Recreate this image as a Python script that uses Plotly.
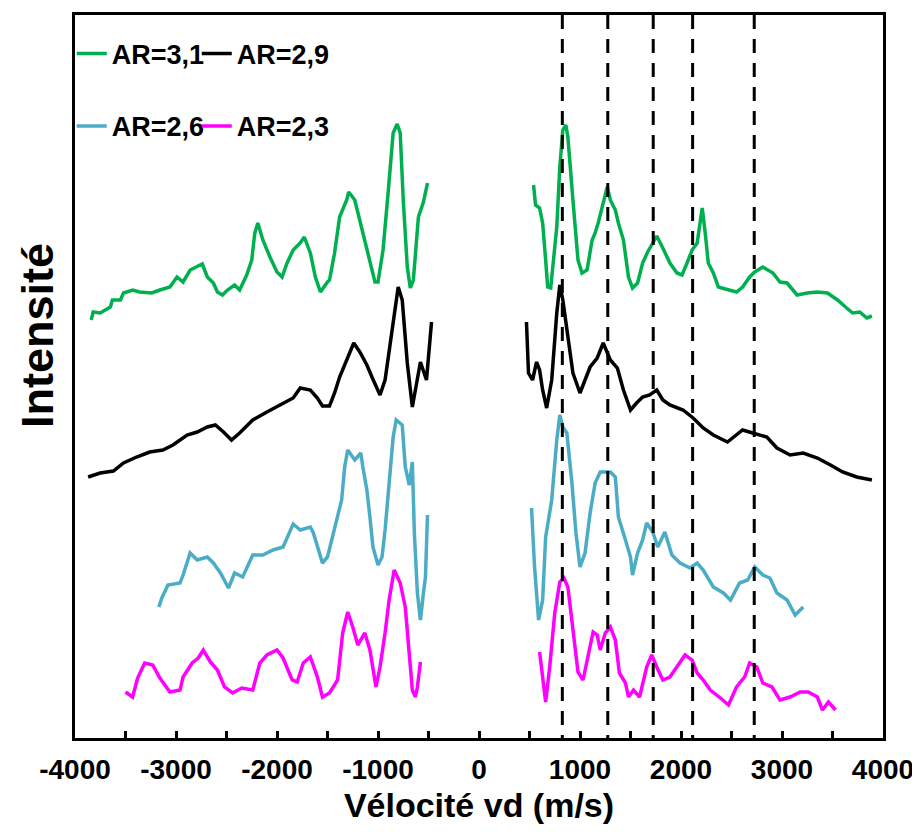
import plotly.graph_objects as go

# ---------------- data (velocity in m/s, intensity in arbitrary units) ----------------
green_neg_v = [-3840,-3820,-3750,-3650,-3630,-3550,-3520,-3430,-3360,-3240,
               -3160,-3060,-2990,-2930,-2860,-2790,-2740,-2690,-2630,-2590,
               -2540,-2490,-2420,-2370,-2300,-2250,-2220,-2190,-2140,-2070,
               -2000,-1950,-1900,-1840,-1770,-1730,-1670,-1620,-1570,-1500,
               -1480,-1430,-1380,-1310,-1290,-1230,-1180,-1130,-1080,-1030,
               -1000,-950,-900,-850,-810,-780,-750,-710,-680,-650,
               -600,-560,-550,-510]
green_neg_i = [417,425,424,430,437,437,444,447,445,444,
               447,450,460,455,467,470,473,460,454,445,
               442,447,452,447,462,477,504,514,497,480,
               465,460,474,487,494,500,484,460,445,455,
               457,484,520,537,545,537,517,497,474,455,
               455,487,544,604,613,604,537,470,449,457,
               520,534,535,554]
green_pos_v = [540,560,600,630,660,680,710,730,770,800,
               830,860,880,930,980,1020,1070,1120,1150,1180,
               1220,1270,1300,1350,1380,1430,1480,1520,1570,1620,
               1670,1760,1820,1890,1960,2010,2060,2110,2160,2210,
               2240,2270,2320,2370,2440,2520,2550,2610,2680,2730,
               2810,2910,2980,3050,3150,3250,3350,3450,3550,3640,
               3700,3770,3840,3890]
green_pos_i = [552,532,529,514,477,450,449,467,510,570,
               607,612,600,537,477,464,467,497,504,514,
               530,550,537,527,514,497,460,449,454,474,
               485,501,489,474,464,462,474,487,494,529,
               504,474,464,450,448,446,445,450,460,465,
               470,464,455,454,442,444,445,444,437,429,
               424,425,419,421]

black_neg_v = [-3870,-3750,-3620,-3520,-3390,-3260,-3130,-3030,-2890,-2790,
               -2690,-2610,-2530,-2450,-2370,-2240,-2100,-1970,-1840,-1770,
               -1670,-1600,-1550,-1480,-1430,-1380,-1310,-1240,-1180,-1110,
               -1060,-980,-930,-860,-800,-760,-710,-660,-610,-580,
               -520,-470]
black_neg_i = [260,264,266,274,280,285,287,292,302,305,
               310,312,305,297,304,317,325,332,339,349,
               347,339,331,331,344,360,377,394,385,372,
               360,342,357,407,450,437,374,330,357,375,
               357,415]
black_pos_v = [470,490,530,570,600,630,670,720,770,800,
               830,880,930,1000,1050,1100,1170,1230,1300,1370,
               1430,1500,1560,1620,1690,1760,1820,1890,2020,2120,
               2220,2320,2460,2510,2610,2710,2850,2950,3080,3210,
               3350,3480,3600,3740,3890]
black_pos_i = [415,364,357,375,367,347,329,357,424,452,
               437,400,364,344,357,370,379,394,377,369,
               347,327,334,340,342,347,337,332,327,319,
               309,302,295,299,307,304,300,289,282,284,
               279,272,265,260,257]

cyan_neg_v = [-3170,-3140,-3080,-2960,-2930,-2860,-2790,-2690,-2630,-2560,
              -2480,-2420,-2340,-2240,-2140,-2040,-1940,-1840,-1770,-1670,
              -1640,-1590,-1550,-1500,-1450,-1400,-1360,-1330,-1300,-1230,
              -1170,-1150,-1110,-1080,-1050,-1000,-960,-930,-880,-850,
              -820,-760,-730,-690,-660,-640,-610,-580,-550,-530,
              -510]
cyan_neg_i = [130,139,152,154,162,184,177,180,174,164,
              149,164,160,182,182,187,190,213,207,210,
              204,187,174,180,200,220,237,270,287,277,
              284,270,247,220,190,172,180,207,260,300,
              317,312,270,252,275,204,144,117,144,160,
              222]
cyan_pos_v = [520,550,590,630,660,720,770,800,830,870,
              920,960,1000,1050,1100,1150,1200,1300,1350,1380,
              1450,1500,1520,1570,1620,1660,1720,1770,1840,1910,
              1990,2090,2160,2220,2320,2420,2490,2580,2660,2730,
              2810,2880,2950,3050,3130,3210]
cyan_pos_i = [229,170,117,137,200,237,297,322,310,304,
              254,204,170,184,224,254,265,265,260,220,
              197,180,162,184,197,214,205,190,205,182,
              174,169,174,167,150,144,137,154,157,170,
              162,159,144,137,122,130]

magenta_neg_v = [-3500,-3430,-3380,-3310,-3230,-3160,-3060,-2960,-2930,-2840,
                 -2780,-2730,-2660,-2590,-2520,-2440,-2350,-2240,-2170,-2100,
                 -2000,-1940,-1850,-1800,-1740,-1670,-1600,-1550,-1480,-1400,
                 -1350,-1300,-1250,-1200,-1130,-1080,-1020,-980,-930,-890,
                 -840,-780,-730,-700,-660,-630,-610,-580]
magenta_neg_i = [45,40,59,74,72,59,45,47,60,74,
                 79,87,75,67,50,44,49,47,74,82,
                 87,79,57,55,74,80,60,40,44,57,
                 104,125,110,92,104,87,50,70,104,137,
                 167,154,130,94,47,40,50,75]
magenta_pos_v = [600,630,660,700,750,800,840,880,930,980,
                 1030,1080,1130,1170,1200,1250,1300,1350,1390,1450,
                 1480,1530,1590,1660,1710,1760,1820,1890,1960,2040,
                 2110,2160,2220,2290,2390,2470,2550,2630,2680,2750,
                 2810,2900,2980,3080,3180,3260,3350,3400,3460,3530]
magenta_pos_i = [85,57,35,70,124,155,159,150,104,65,
                 57,80,105,102,87,104,110,97,64,54,
                 40,47,40,70,82,70,57,60,70,82,
                 77,64,57,47,39,32,50,60,74,70,
                 54,50,37,40,45,45,40,27,35,27]

series_names = ["AR=3,1", "AR=2,9", "AR=2,6", "AR=2,3"]
series_colors = ["#00B050", "#000000", "#4BACC6", "#FF00FF"]
reference_velocities = [825, 1275, 1725, 2115, 2725]
x_ticks = [-4000, -3000, -2000, -1000, 0, 1000, 2000, 3000, 4000]
x_tick_labels = ["-4000", "-3000", "-2000", "-1000", "0", "1000", "2000", "3000", "4000"]

series = [
    (green_neg_v, green_neg_i, green_pos_v, green_pos_i),
    (black_neg_v, black_neg_i, black_pos_v, black_pos_i),
    (cyan_neg_v, cyan_neg_i, cyan_pos_v, cyan_pos_i),
    (magenta_neg_v, magenta_neg_i, magenta_pos_v, magenta_pos_i),
]

FONT = "Liberation Sans, Arial, sans-serif"

fig = go.Figure()
for k, (nv, ni, pv, pi) in enumerate(series):
    fig.add_trace(go.Scatter(
        x=nv + [None] + pv,
        y=ni + [None] + pi,
        mode="lines",
        name=series_names[k],
        line=dict(color=series_colors[k], width=3.5),
        connectgaps=False,
        legend="legend" if k < 2 else "legend2",
        legendwidth=80 if k % 2 == 0 else 110,
    ))

for v in reference_velocities:
    fig.add_shape(type="line", xref="x", yref="paper", x0=v, x1=v, y0=1, y1=0,
                  line=dict(color="black", width=3, dash="14px,10px"))

legend_common = dict(orientation="h", xanchor="left", yanchor="middle",
                     itemwidth=30, bgcolor="rgba(0,0,0,0)", borderwidth=0,
                     font=dict(family=FONT, size=27, color="black", weight="bold"))

fig.update_layout(
    width=912, height=816,
    margin=dict(l=67, r=37, t=7, b=86, autoexpand=False),
    plot_bgcolor="white", paper_bgcolor="white",
    font=dict(family=FONT, color="black"),
    legend=dict(x=-0.004, y=0.946, **legend_common),
    legend2=dict(x=-0.004, y=0.846, **legend_common),
    xaxis=dict(
        range=[-4000, 4000], tickvals=x_ticks, ticktext=x_tick_labels,
        ticks="inside", ticklen=7, tickwidth=3, tickcolor="black",
        minor=dict(dtick=500, ticks="inside", ticklen=7, tickwidth=3, tickcolor="black"),
        showline=True, linewidth=3, linecolor="black", mirror=True,
        showgrid=False, zeroline=False, automargin=False,
        tickfont=dict(family=FONT, size=28, color="black", weight="bold"),
        ticklabelstandoff=4,
        title=dict(text="Vélocité vd (m/s)", standoff=10,
                   font=dict(family=FONT, size=34, color="black", weight="bold")),
    ),
    yaxis=dict(
        range=[-1, 722], showticklabels=False, ticks="",
        showline=True, linewidth=3, linecolor="black", mirror=True,
        showgrid=False, zeroline=False, automargin=False,
    ),
    annotations=[dict(
        text="Intensité", textangle=-90, showarrow=False, borderpad=0,
        xref="paper", yref="paper", x=-0.047, y=0.556,
        xanchor="center", yanchor="middle",
        font=dict(family=FONT, size=45, color="black", weight="bold"),
    )],
)

fig.write_html("out.html")
